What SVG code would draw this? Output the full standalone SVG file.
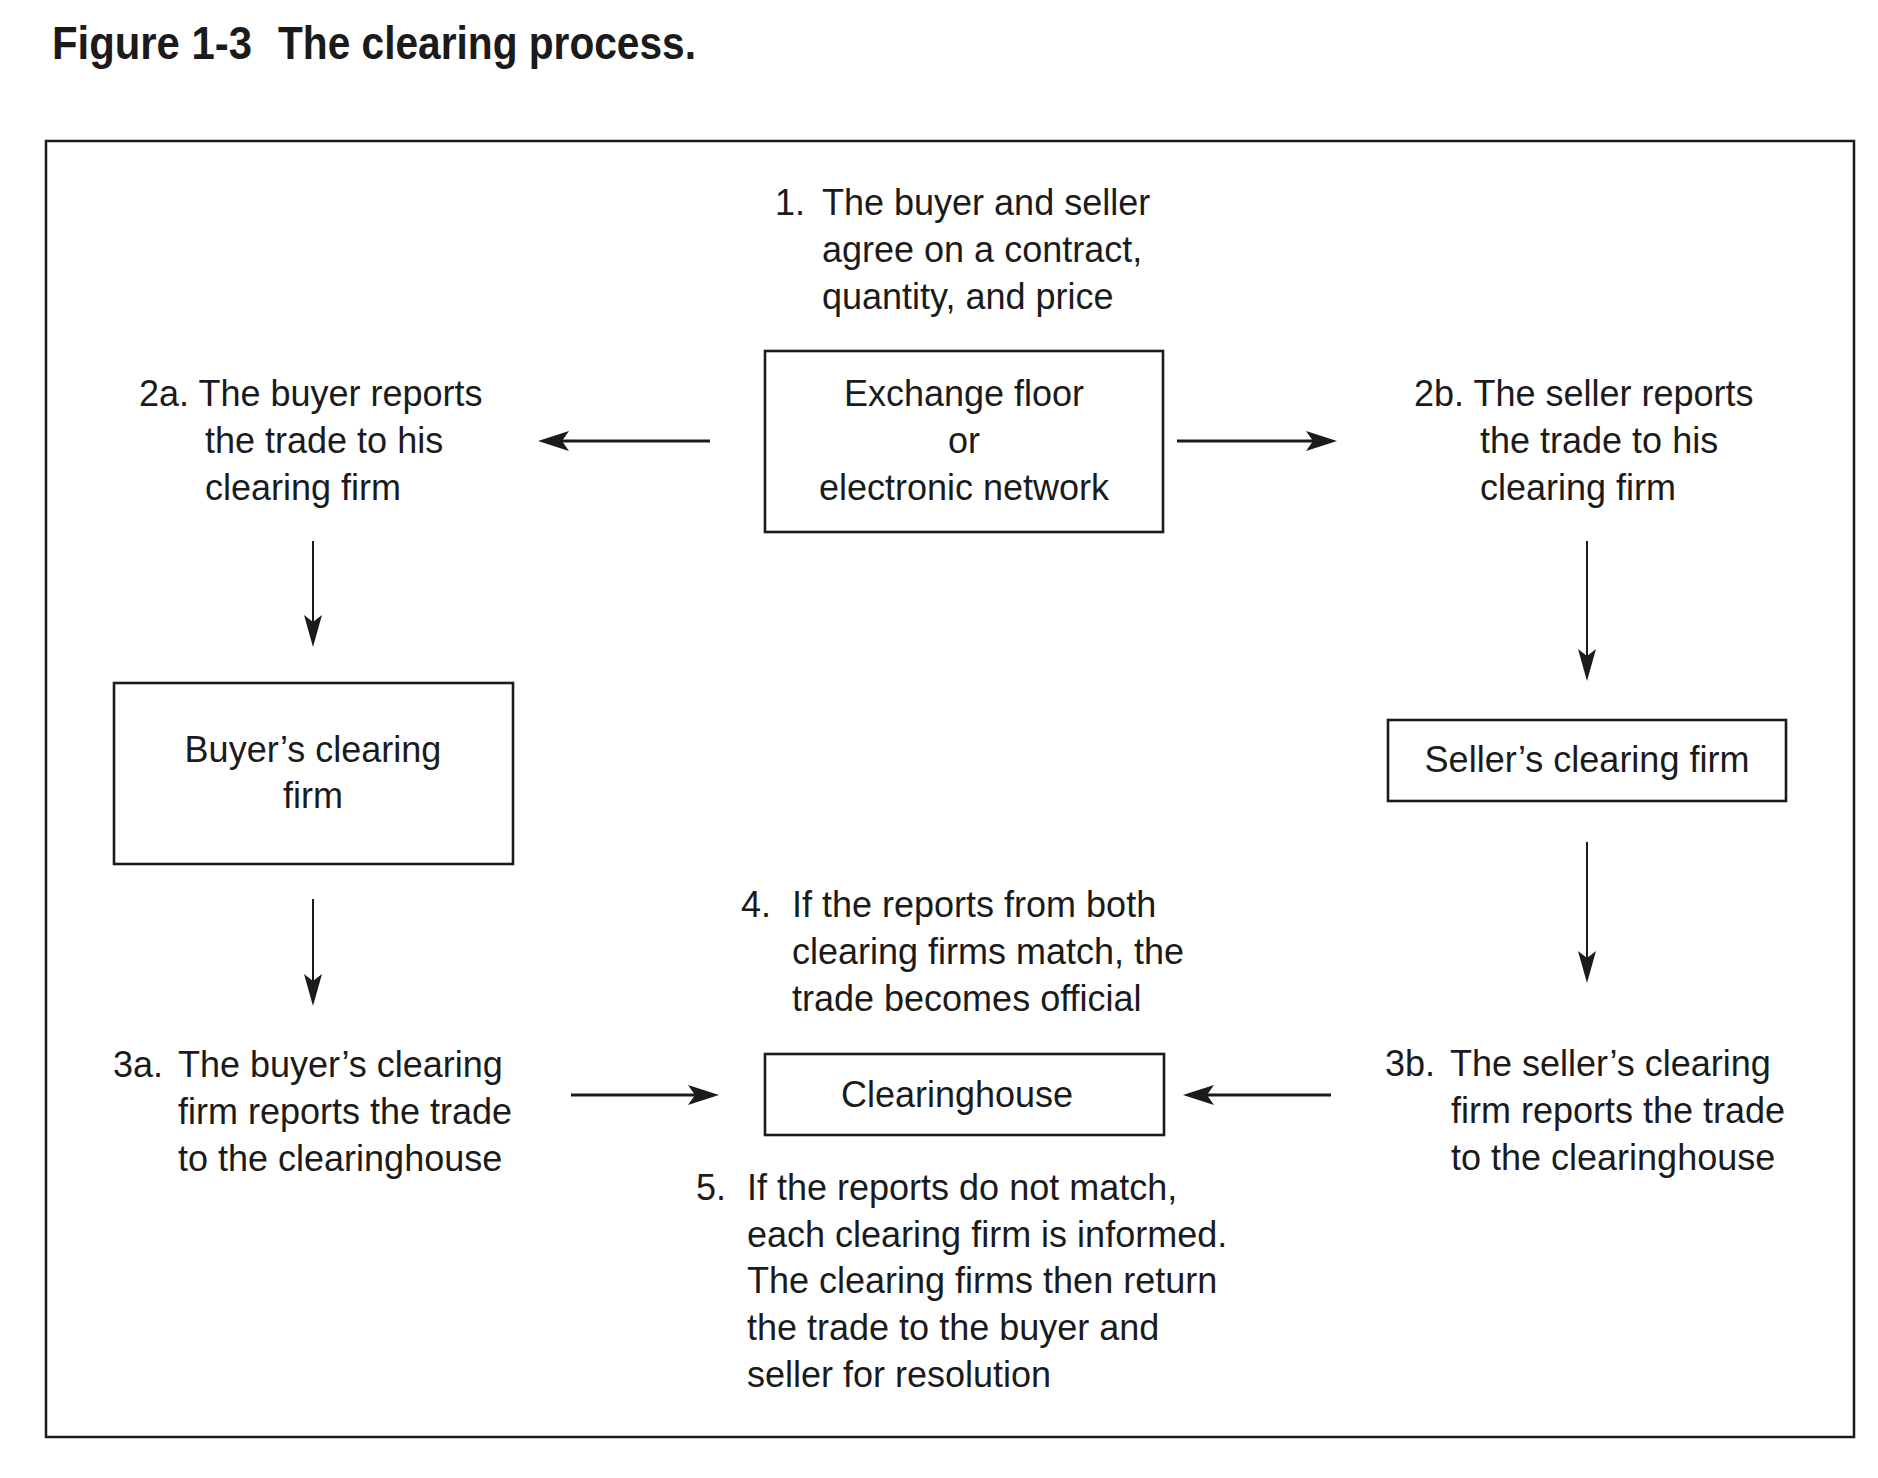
<svg xmlns="http://www.w3.org/2000/svg" width="1878" height="1478" viewBox="0 0 1878 1478">
<style>
  text { font-family: "Liberation Sans", Arial, sans-serif; font-size: 36px; fill: #1b1b1b; }
  .title { font-weight: bold; font-size: 46px; }
  .c { text-anchor: middle; }
  .box { fill: none; stroke: #1b1b1b; stroke-width: 2.6; }
  .frame { fill: none; stroke: #1b1b1b; stroke-width: 2.5; }
  .h { stroke: #1b1b1b; stroke-width: 3; fill: none; marker-end: url(#ah); }
  .v { stroke: #1b1b1b; stroke-width: 2; fill: none; marker-end: url(#av); }
</style>
<defs>
  <marker id="ah" markerUnits="userSpaceOnUse" markerWidth="32" markerHeight="22" refX="23" refY="10" orient="auto" viewBox="0 0 32 22">
    <path d="M31,10 L0,0 L7,10 L0,20 Z" fill="#1b1b1b"/>
  </marker>
  <marker id="av" markerUnits="userSpaceOnUse" markerWidth="33" markerHeight="20" refX="24" refY="9" orient="auto" viewBox="0 0 33 20">
    <path d="M32,9 L0,0 L7,9 L0,18 Z" fill="#1b1b1b"/>
  </marker>
</defs>
<rect width="1878" height="1478" fill="#ffffff"/>
<g id="title">
  <text class="title" x="52" y="59" textLength="200" lengthAdjust="spacingAndGlyphs">Figure 1-3</text>
  <text class="title" x="278" y="59" textLength="418" lengthAdjust="spacingAndGlyphs">The clearing process.</text>
</g>
<rect class="frame" x="46" y="141" width="1808" height="1296"/>

<g id="step1">
  <text x="775" y="215">1.</text>
  <text x="822" y="215">The buyer and seller</text>
  <text x="822" y="262">agree on a contract,</text>
  <text x="822" y="309">quantity, and price</text>
</g>
<g id="exchange">
  <rect class="box" x="765" y="351" width="398" height="181"/>
  <text class="c" x="964" y="406">Exchange floor</text>
  <text class="c" x="964" y="453">or</text>
  <text class="c" x="964" y="500">electronic network</text>
</g>
<g id="step2a">
  <text x="139" y="406">2a. The buyer reports</text>
  <text x="205" y="453">the trade to his</text>
  <text x="205" y="500">clearing firm</text>
</g>
<g id="step2b">
  <text x="1414" y="406">2b. The seller reports</text>
  <text x="1480" y="453">the trade to his</text>
  <text x="1480" y="500">clearing firm</text>
</g>
<g id="buyer-firm">
  <rect class="box" x="114" y="683" width="399" height="181"/>
  <text class="c" x="313" y="762">Buyer’s clearing</text>
  <text class="c" x="313" y="808">firm</text>
</g>
<g id="seller-firm">
  <rect class="box" x="1388" y="720" width="398" height="81"/>
  <text class="c" x="1587" y="772">Seller’s clearing firm</text>
</g>
<g id="step4">
  <text x="741" y="917">4.</text>
  <text x="792" y="917">If the reports from both</text>
  <text x="792" y="964">clearing firms match, the</text>
  <text x="792" y="1011">trade becomes official</text>
</g>
<g id="clearinghouse">
  <rect class="box" x="765" y="1054" width="399" height="81"/>
  <text class="c" x="957" y="1107">Clearinghouse</text>
</g>
<g id="step3a">
  <text x="113" y="1077">3a.</text>
  <text x="178" y="1077">The buyer’s clearing</text>
  <text x="178" y="1124">firm reports the trade</text>
  <text x="178" y="1171">to the clearinghouse</text>
</g>
<g id="step3b">
  <text x="1385" y="1076">3b.</text>
  <text x="1450" y="1076">The seller’s clearing</text>
  <text x="1451" y="1123">firm reports the trade</text>
  <text x="1451" y="1170">to the clearinghouse</text>
</g>
<g id="step5">
  <text x="696" y="1200">5.</text>
  <text x="747" y="1200">If the reports do not match,</text>
  <text x="747" y="1247">each clearing firm is informed.</text>
  <text x="747" y="1293">The clearing firms then return</text>
  <text x="747" y="1340">the trade to the buyer and</text>
  <text x="747" y="1387">seller for resolution</text>
</g>

<g id="connectors">
  <path class="h" d="M710,441 H546"/>
  <path class="h" d="M1177,441 H1329"/>
  <path class="v" d="M313,541 V639"/>
  <path class="v" d="M313,899 V998"/>
  <path class="v" d="M1587,541 V673"/>
  <path class="v" d="M1587,842 V975"/>
  <path class="h" d="M571,1095 H711"/>
  <path class="h" d="M1331,1095 H1191"/>
</g>
</svg>
